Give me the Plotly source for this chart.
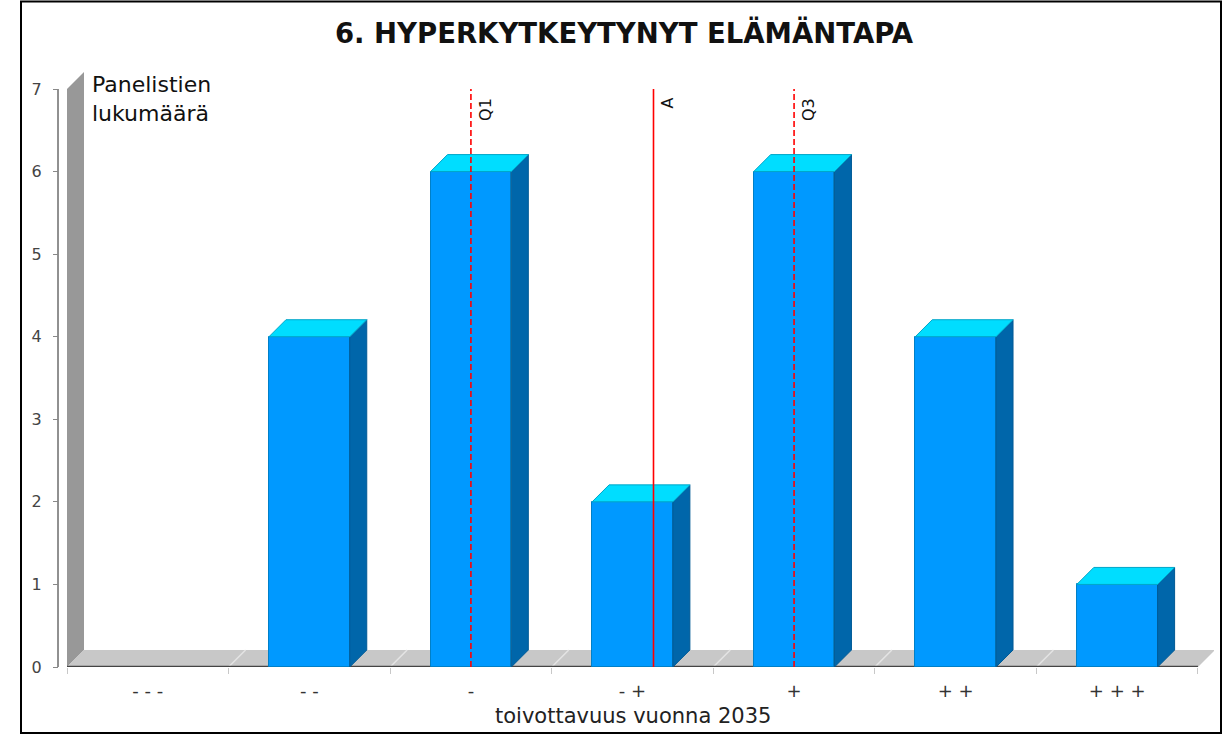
import plotly.graph_objects as go

# ---------------- data ----------------
categories = ["- - -", "- -", "-", "- +", "+", "+ +", "+ + +"]
counts = [0, 4, 6, 2, 6, 4, 1]
y_ticks = [0, 1, 2, 3, 4, 5, 6, 7]
marker_names = ["Q1", "A", "Q3"]
marker_values = [3, 4.13, 5]          # position on the 1..7 answer scale
marker_dash = ["6px,3px", "solid", "6px,3px"]
title_text = "6. HYPERKYTKEYTYNYT ELÄMÄNTAPA"
x_title = "toivottavuus vuonna 2035"
y_title = "Panelistien<br>lukumäärä"

# ---------------- geometry ----------------
OFF = 0                   # page body margin (removed by post_script)
W, H = 1224 - OFF, 734 - OFF
ML, MR, MT, MB = 20 - OFF, 10, 70 - OFF, 67
PW = W - ML - MR
PH = H - MT - MB
CAT_PX = 161.57          # pixels per category
UNIT_PX = 82.57          # pixels per count unit
X_LEFT_PX = 67           # screen px of the category axis start
x_lo = -0.5
x_hi = x_lo + (1214 - X_LEFT_PX) / CAT_PX
y_hi = PH / UNIT_PX
DX = 17 / CAT_PX         # 3D depth offset, in data units
DY = 17 / UNIT_PX
BAR_W = 0.5
Y_MAX = max(y_ticks)
n = len(categories)


def px_x(sx):
    """screen x (px) -> paper x"""
    return (sx - OFF - ML) / PW


def px_y(sy):
    """screen y (px) -> paper y"""
    return (H - MB - (sy - OFF)) / PH


FRONT = "#0099ff"
TOP = "#00ddff"
SIDE = "#0066aa"
EDGE = "#0080c8"
WALL = "#989898"
FLOOR = "#c8c8c8"

fig = go.Figure()

# front faces
idx = list(range(n))
fig.add_trace(go.Bar(
    x=idx, y=[v if v > 0 else None for v in counts], width=BAR_W,
    marker=dict(color=FRONT, line=dict(color=EDGE, width=1)),
    hoverinfo="skip", showlegend=False,
))

# side and top faces
side_x, side_y, top_x, top_y = [], [], [], []
for i, v in zip(idx, counts):
    if v <= 0:
        continue
    r = i + BAR_W / 2
    l = i - BAR_W / 2
    side_x += [r, r + DX, r + DX, r, r, None]
    side_y += [0, DY, v + DY, v, 0, None]
    top_x += [l, r, r + DX, l + DX, l, None]
    top_y += [v, v, v + DY, v + DY, v, None]

fig.add_trace(go.Scatter(x=side_x, y=side_y, mode="lines", fill="toself",
                         fillcolor=SIDE, line=dict(color="#005a96", width=1),
                         hoverinfo="skip", showlegend=False))
fig.add_trace(go.Scatter(x=top_x, y=top_y, mode="lines", fill="toself",
                         fillcolor=TOP, line=dict(color="#00a6c8", width=1),
                         hoverinfo="skip", showlegend=False))

# marker lines (Q1, mean, Q3)
annotations = []
for name, val, dash in zip(marker_names, marker_values, marker_dash):
    xv = val - 1
    fig.add_trace(go.Scatter(x=[xv, xv], y=[0, Y_MAX], mode="lines",
                             line=dict(color="#ff0000", width=1.6, dash=dash),
                             hoverinfo="skip", showlegend=False))
    annotations.append(dict(x=xv, y=Y_MAX, xref="x", yref="y", text=name,
                            textangle=-90, showarrow=False, xanchor="left",
                            yanchor="top", xshift=3, yshift=-7,
                            font=dict(family="DejaVu Sans", size=16, color="#111")))

# axis titles
annotations.append(dict(x=(n - 1) / 2, y=px_y(716), xref="x", yref="paper",
                        text=x_title, showarrow=False, xanchor="center",
                        yanchor="middle",
                        font=dict(family="DejaVu Sans", size=21, color="#222")))
annotations.append(dict(x=px_x(90), y=px_y(70), xref="paper", yref="paper",
                        text=y_title, showarrow=False, xanchor="left",
                        yanchor="top", align="left",
                        font=dict(family="DejaVu Sans", size=22, color="#111")))

# background shapes: wall, floor, grid lines on floor, edges
shapes = []
shapes.append(dict(type="path", layer="below", xref="x", yref="y",
                   path=f"M{x_lo},0 L{x_lo},{Y_MAX} L{x_lo + DX},{Y_MAX + DY} L{x_lo + DX},{DY} Z",
                   fillcolor=WALL, line=dict(width=0)))
x_end = x_lo + n
shapes.append(dict(type="path", layer="below", xref="x", yref="y",
                   path=f"M{x_lo},0 L{x_end},0 L{x_end + DX},{DY} L{x_lo + DX},{DY} Z",
                   fillcolor=FLOOR, line=dict(width=0)))
for k in range(1, n):
    b = x_lo + k
    shapes.append(dict(type="line", layer="below", xref="x", yref="y",
                       x0=b, y0=0, x1=b + DX, y1=DY,
                       line=dict(color="#e4e4e4", width=1.5)))
shapes.append(dict(type="line", layer="below", xref="x", yref="y",
                   x0=x_lo, y0=0, x1=x_end, y1=0,
                   line=dict(color="#444444", width=2.5)))
# y axis line
shapes.append(dict(type="line", layer="below", xref="paper", yref="y",
                   x0=px_x(58), y0=0, x1=px_x(58), y1=Y_MAX,
                   line=dict(color="#222222", width=1)))
# outer frame
shapes.append(dict(type="rect", layer="above", xref="paper", yref="paper",
                   x0=px_x(21), y0=px_y(1.5), x1=px_x(1221), y1=px_y(733),
                   line=dict(color="#000000", width=2), fillcolor="rgba(0,0,0,0)"))

fig.update_layout(
    width=W, height=H,
    margin=dict(l=ML, r=MR, t=MT, b=MB, pad=0),
    paper_bgcolor="white", plot_bgcolor="white",
    title=dict(text=title_text, x=(624 - OFF) / W, xanchor="center",
               y=1 - (33 - OFF) / H, yanchor="middle", xref="container", yref="container",
               font=dict(family="DejaVu Sans", size=27.5, color="#111", weight="bold")),
    xaxis=dict(domain=[px_x(X_LEFT_PX), 1], range=[x_lo, x_hi],
               tickmode="array", tickvals=idx, ticktext=categories,
               ticks="", showgrid=False, zeroline=False, showline=False,
               ticklabelstandoff=11,
               tickfont=dict(family="DejaVu Sans", size=18, color="#333"),
               minor=dict(tickmode="array", tickvals=[x_lo + k for k in range(n + 1)],
                          ticks="outside", ticklen=6, tickcolor="#c8c8c8",
                          tickwidth=1, showgrid=False)),
    yaxis=dict(anchor="free", position=px_x(58), range=[0, y_hi],
               tickmode="array", tickvals=y_ticks, ticks="outside", ticklen=5,
               tickcolor="#888", showgrid=False, zeroline=False, showline=False,
               ticklabelstandoff=8,
               tickfont=dict(family="DejaVu Sans", size=16, color="#444")),
    shapes=shapes,
    annotations=annotations,
    bargap=0,
    showlegend=False,
)

fig.write_html("out.html",
               config={"displayModeBar": False},
               post_script="document.body.style.margin='0px';document.body.style.overflow='hidden';")
